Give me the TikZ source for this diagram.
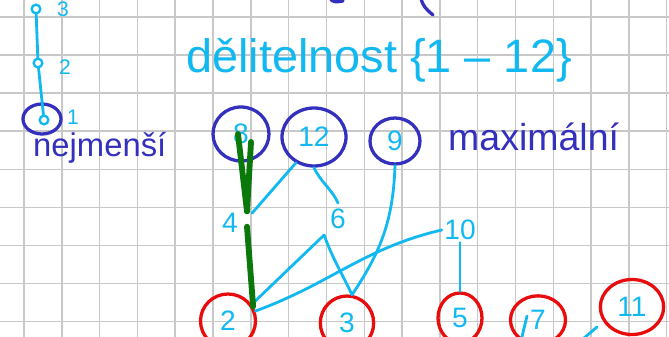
\documentclass[tikz,border=0pt]{standalone}
\usepackage{fontspec}
\setmainfont{Liberation Sans}
\usepackage{tikz}
\usetikzlibrary{positioning,shapes.geometric}

\definecolor{penblue}{RGB}{18,184,240}
\definecolor{inkblue}{RGB}{52,48,190}
\definecolor{penred}{RGB}{232,12,12}
\definecolor{pengreen}{RGB}{10,120,10}
\definecolor{gridgray}{RGB}{200,200,200}

\begin{document}
\begin{tikzpicture}[
  x=0.03cm, y=-0.03cm,
  pen/.style={draw=penblue, line width=2.4pt, line cap=round},
  ink/.style={draw=inkblue, line width=2.8pt, line cap=round},
  marker/.style={draw=pengreen, line width=5pt, line cap=round},
  num/.style={text=penblue, font=\fontsize{24}{24}\selectfont, inner sep=2pt},
  small/.style={text=penblue, font=\fontsize{18}{18}\selectfont, inner sep=1pt},
  word/.style={text=inkblue, inner sep=0pt},
  maxn/.style={num, ellipse, draw=inkblue, line width=2.8pt, inner sep=0pt},
  minn/.style={num, ellipse, draw=penred, line width=2.8pt, inner sep=0pt},
  dot/.style={circle, draw=penblue, line width=2pt, inner sep=0pt, minimum size=0.26cm},
  pt/.style={circle, inner sep=0pt, minimum size=0.45cm},
]
\useasboundingbox (0,0) rectangle (669,337);
\clip (0,0) rectangle (669,337);

% squared paper
\foreach \i in {0,...,17}
  \draw[gridgray, line width=1.2pt] ({24+37.8*\i},0) -- ({24+37.8*\i},337);
\foreach \j in {0,...,8}
  \draw[gridgray, line width=1.2pt] (0,{16.9+38.1*\j}) -- (669,{16.9+38.1*\j});

% bits cut off at the top
\draw[ink] (330,-2) to[out=-70,in=190] (343,1);
\draw[ink] (421,-2) to[out=-80,in=140] (433,15);

% title
\node[text=penblue, font=\fontsize{40}{40}\selectfont, anchor=base] (title) at (379,72) {dělitelnost \{1 -- 12\}};

% small chain
\node[dot] (c3) at (36,9) {};
\node[dot] (c2) at (38,63) {};
\node[dot] (c1) at (44,120) {};
\node[small] (l3) at (63,9) {3};
\node[small] (l2) at (65,67) {2};
\node[small] (l1) at (73,117) {1};
\node[ellipse, draw=inkblue, line width=2.8pt, minimum width=1.14cm, minimum height=0.9cm] (c1ring) at (42,119) {};
\draw[pen] (c3) -- (c2);
\draw[pen] (c2) -- (c1);

\node[word, font=\fontsize{28}{28}\selectfont, anchor=base west] (least) at (33,156) {nejmenší};
\node[word, font=\fontsize{32}{32}\selectfont, anchor=base west] (greatest) at (448,150) {maximální};

% maximal elements
\node[maxn, minimum width=1.68cm, minimum height=1.62cm] (n8) at (241,134) {8};
\node[maxn, minimum width=1.92cm, minimum height=1.74cm] (n12) at (314,137) {12};
\node[maxn, minimum width=1.5cm, minimum height=1.38cm] (n9) at (395,141) {9};

% middle
\node[pt] (p4) at (247,219) {};
\node[num] (n4) at (230,223) {4};
\node[num, inner sep=5pt] (n6) at (338,219) {6};
\node[num] (n10) at (460,230) {10};

% minimal elements
\node[minn, minimum width=1.65cm, minimum height=1.62cm] (n2) at (228,321) {2};
\node[minn, minimum width=1.6cm, minimum height=1.62cm] (n3) at (347,323) {3};
\node[minn, minimum width=1.32cm, minimum height=1.5cm] (n5) at (460,318) {5};
\node[minn, minimum width=1.65cm, minimum height=1.45cm] (n7) at (538,320) {7};
\node[minn, minimum width=1.9cm, minimum height=1.65cm] (n11) at (632,307) {11};

\coordinate (t7) at (527,316);
\coordinate (b7) at (520,345);
\coordinate (t11) at (597,327);
\coordinate (b11) at (577,344);

\draw[pen] (n8.south) -- (p4);
\draw[pen] (n12.235) -- (p4);
\draw[pen] (p4) -- (n2.30);
\draw[pen] (n12.south) to[out=-65,in=115] (n6.north);
\draw[pen] (n6.south west) -- (n2.35);
\draw[pen] (n6.south west) to[out=-70,in=115] (n3.80);
\draw[pen] (n9.south) to[out=-92,in=56] (n3.80);
\draw[pen] (n10.west) to[out=193,in=20] (n2.20);
\draw[pen] (n10.south) -- (n5.north);
\draw[pen] (t7) -- (b7);
\draw[pen] (t11) -- (b11);

% chain 8 - 4 - 2
\draw[marker] ([xshift=-0.09cm]n8.center) -- (p4.north);
\draw[marker] ([xshift=0.3cm,yshift=-0.24cm]n8.center) -- (p4.north);
\draw[marker] (p4.south) -- (n2.30);
\end{tikzpicture}
\end{document}
